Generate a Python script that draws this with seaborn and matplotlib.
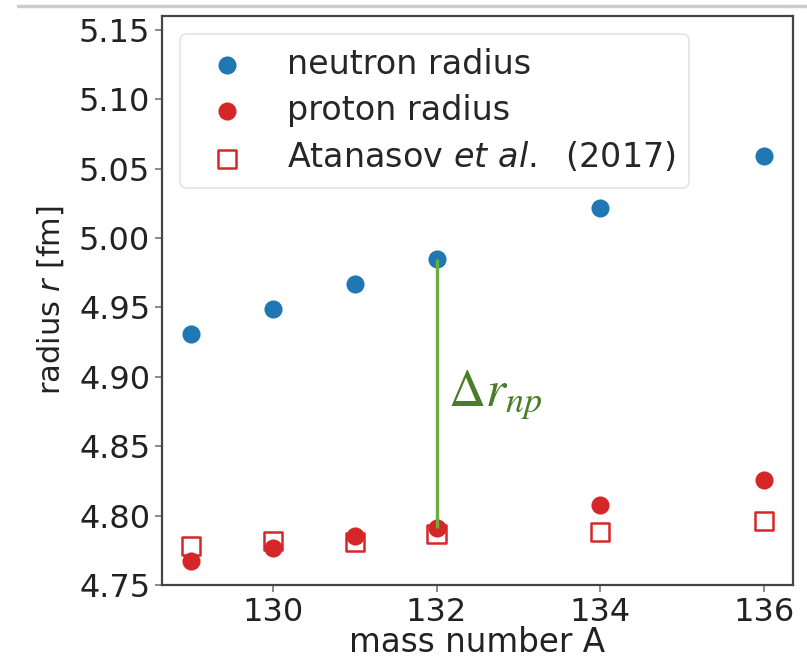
import matplotlib
matplotlib.use("Agg")
import matplotlib.pyplot as plt
from matplotlib.lines import Line2D
import seaborn as sns
import pandas as pd

# mass numbers of the isotopes
mass_number = [129, 130, 131, 132, 134, 136]
# computed rms radii [fm]
neutron_radius = [4.931, 4.949, 4.967, 4.985, 5.022, 5.059]
proton_radius = [4.767, 4.777, 4.785, 4.791, 4.808, 4.826]
# reference proton radii
atanasov_radius = [4.778, 4.782, 4.781, 4.787, 4.788, 4.796]

x_ticks = [130, 132, 134, 136]
y_ticks = [4.75, 4.80, 4.85, 4.90, 4.95, 5.00, 5.05, 5.10, 5.15]

BLUE = "#1f77b4"
RED = "#d62728"
GREEN_LINE = "#6aae3e"
GREEN_TEXT = "#4a7d28"

df = pd.DataFrame({
    "A": mass_number,
    "neutron": neutron_radius,
    "proton": proton_radius,
    "atanasov": atanasov_radius,
})

sns.set_style("ticks")
plt.rcParams["font.family"] = ["DejaVu Sans"]

fig = plt.figure(figsize=(8.07, 6.58), dpi=100)
ax = fig.add_axes([0.2007, 0.1109, 0.782, 0.8648])

sns.scatterplot(data=df, x="A", y="neutron", ax=ax, color=BLUE, s=170,
                linewidth=0, label="neutron radius", zorder=4)
sns.scatterplot(data=df, x="A", y="proton", ax=ax, color=RED, s=170,
                linewidth=0, label="proton radius", zorder=4)
sns.scatterplot(data=df, x="A", y="atanasov", ax=ax, marker="s", s=170,
                color=RED, linewidth=1.8, label=r"Atanasov $\it{et\ al.}$  (2017)",
                zorder=3)
squares = ax.collections[-1]
squares.set_facecolor("none")
squares.set_edgecolor(RED)

# neutron skin at A = 132
i132 = mass_number.index(132)
ax.vlines(mass_number[i132], proton_radius[i132], neutron_radius[i132],
          color=GREEN_LINE, linewidth=2.4, zorder=5)
ax.text(132.14, 4.879, r"$\Delta r_{np}$", color=GREEN_TEXT, fontsize=37,
        math_fontfamily="stix", va="baseline", ha="left")

ax.set_ylim(4.75, 5.16)
ax.set_xlim(128.65, 136.35)
ax.set_xticks(x_ticks)
ax.set_yticks(y_ticks)
ax.set_yticklabels([f"{v:.2f}" for v in y_ticks])

ax.set_xlabel("mass number A", fontsize=23.5, color="#222222", labelpad=-1)
ax.set_ylabel(r"radius $r$ [fm]", fontsize=22, color="#222222", labelpad=9)
ax.tick_params(axis="both", labelsize=23, labelcolor="#222222", color="#777777",
               length=5, width=1.2, direction="out")
for side in ["left", "right", "top", "bottom"]:
    ax.spines[side].set_visible(True)
    ax.spines[side].set_color("#444444")
    ax.spines[side].set_linewidth(1.6)

leg = ax.legend(loc="upper left", fontsize=24, frameon=True, fancybox=True,
                borderaxespad=0.55, handletextpad=0.8, labelspacing=0.4)
leg.get_frame().set_edgecolor("#dddddd")
leg.get_frame().set_linewidth(1.2)

# thin separator at the top of the figure
fig.add_artist(Line2D([0.022, 1.0], [0.991, 0.991], transform=fig.transFigure,
                      color="#cccccc", linewidth=2.5))

fig.savefig("out.png", dpi=100)
